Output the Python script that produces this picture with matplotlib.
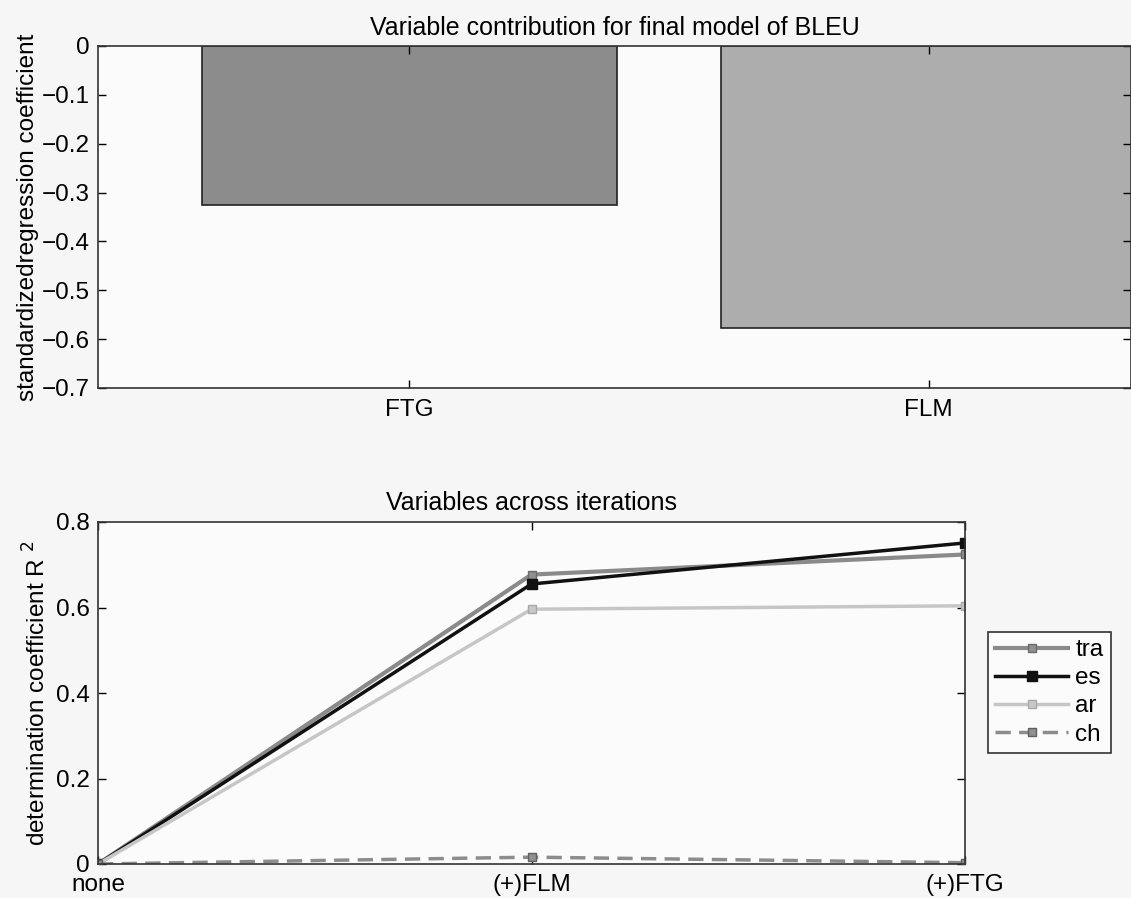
import numpy as np
import matplotlib
matplotlib.use('Agg')
import matplotlib.pyplot as plt

plt.rcParams['font.family'] = ['Liberation Sans', 'DejaVu Sans']
plt.rcParams['font.size'] = 17.5

# top panel: standardized regression coefficients
bar_names  = ['FTG', 'FLM']
bar_values = [-0.325, -0.577]
bar_colors = ['#8c8c8c', '#adadad']
top_yticks = [0, -0.1, -0.2, -0.3, -0.4, -0.5, -0.6, -0.7]
top_ylabels = ['0', '\u22120.1', '\u22120.2', '\u22120.3', '\u22120.4',
               '\u22120.5', '\u22120.6', '\u22120.7']

# bottom panel: R^2 across iterations
steps = ['none', '(+)FLM', '(+)FTG']
r2_tra = [0.0, 0.677, 0.724]
r2_es  = [0.0, 0.655, 0.751]
r2_ar  = [0.0, 0.596, 0.604]
r2_ch  = [0.0, 0.016, 0.003]
bot_yticks = [0, 0.2, 0.4, 0.6, 0.8]
bot_ylabels = ['0', '0.2', '0.4', '0.6', '0.8']

W, H = 1131, 898
fig = plt.figure(figsize=(W / 100, H / 100), dpi=100, facecolor='#f6f6f6')

def px_axes(left, top, right, bottom):
    return fig.add_axes([left / W, 1 - bottom / H, (right - left) / W, (bottom - top) / H])

def matlab_style(ax):
    ax.set_facecolor('#fbfbfb')
    ax.tick_params(direction='in', top=True, right=True, length=6, width=1, pad=6)
    for s in ax.spines.values():
        s.set_linewidth(1.2)
        s.set_color('#333333')

# ---- top
ax1 = px_axes(98, 46, 1131, 388)
matlab_style(ax1)
xb = np.arange(1, len(bar_names) + 1)
ax1.bar(xb, bar_values, width=0.8, color=bar_colors, edgecolor='#222222', linewidth=1.2)
ax1.set_xlim(0.4, 2.39)
ax1.set_ylim(-0.7, 0)
ax1.set_xticks(xb)
ax1.set_xticklabels(bar_names)
ax1.set_yticks(top_yticks)
ax1.set_yticklabels(top_ylabels)
ax1.tick_params(axis='x', pad=8)
ax1.set_ylabel('standardizedregression coefficient', labelpad=2)
ax1.set_title('Variable contribution for final model of BLEU', pad=8, fontsize=18)

# ---- bottom
ax2 = px_axes(98, 522, 965, 864)
matlab_style(ax2)
xs = np.arange(1, len(steps) + 1)
ax2.plot(xs, r2_tra, color='#8a8a8a', lw=3, marker='s', ms=6, mfc='#909090', mec='#6a6a6a', label='tra')
ax2.plot(xs, r2_es, color='#111111', lw=2.5, marker='s', ms=7, mfc='#111111', mec='#111111', label='es')
ax2.plot(xs, r2_ar, color='#c6c6c6', lw=2.5, marker='s', ms=6, mfc='#c8c8c8', mec='#a8a8a8', label='ar')
ax2.plot(xs, r2_ch, color='#8c8c8c', lw=2.5, ls=(0, (4.4, 2.4)), marker='s', ms=6, mfc='#909090', mec='#606060', label='ch')
ax2.set_xlim(1, 3)
ax2.set_ylim(0, 0.8)
ax2.set_xticks(xs)
ax2.set_xticklabels(steps)
ax2.set_yticks(bot_yticks)
ax2.set_yticklabels(bot_ylabels)
ax2.set_ylabel('determination coefficient R $^{2}$', labelpad=4)
ax2.set_title('Variables across iterations', pad=9, fontsize=18)
ax2.tick_params(axis='x', pad=7)

leg = ax2.legend(loc='upper left', bbox_to_anchor=(988 / W, 1 - 632 / H),
                 bbox_transform=fig.transFigure, borderaxespad=0, fancybox=False,
                 framealpha=1, edgecolor='#333333', facecolor='#fbfbfb', handlelength=3.0,
                 borderpad=0.3, labelspacing=0.25, handletextpad=0.3, fontsize=17.5)
leg.get_frame().set_linewidth(1.2)

fig.savefig('out.png', dpi=100, facecolor=fig.get_facecolor())
